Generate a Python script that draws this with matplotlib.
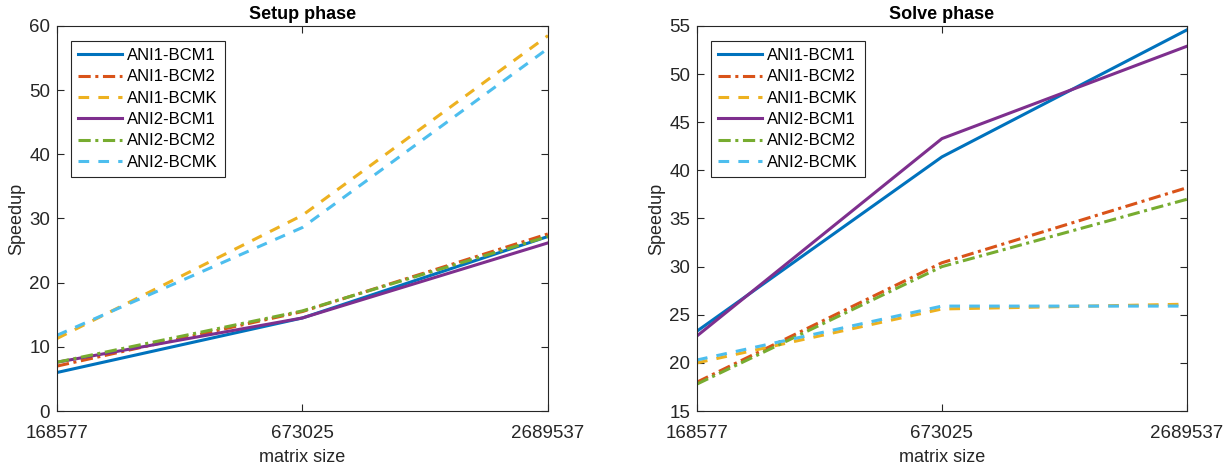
import numpy as np
import matplotlib.pyplot as plt

plt.rcParams['font.family'] = ['Liberation Sans', 'DejaVu Sans']

sizes = [168577, 673025, 2689537]
labels = ['ANI1-BCM1', 'ANI1-BCM2', 'ANI1-BCMK', 'ANI2-BCM1', 'ANI2-BCM2', 'ANI2-BCMK']

setup_ani1_bcm1 = [6.0, 14.5, 27.2]
setup_ani1_bcm2 = [7.0, 15.5, 27.6]
setup_ani1_bcmk = [11.3, 30.5, 58.5]
setup_ani2_bcm1 = [7.6, 14.5, 26.2]
setup_ani2_bcm2 = [7.6, 15.6, 27.2]
setup_ani2_bcmk = [11.8, 28.6, 56.5]

solve_ani1_bcm1 = [23.3, 41.4, 54.6]
solve_ani1_bcm2 = [18.0, 30.4, 38.2]
solve_ani1_bcmk = [20.0, 25.6, 26.1]
solve_ani2_bcm1 = [22.8, 43.3, 52.9]
solve_ani2_bcm2 = [17.8, 30.0, 37.0]
solve_ani2_bcmk = [20.3, 25.9, 25.9]

colors = ['#0072BD', '#D95319', '#EDB120', '#7E2F8E', '#77AC30', '#4DBEEE']
styles = ['-', (0, (4, 1.5, 1, 1.5)), (0, (3.5, 3)), '-', (0, (4, 1.5, 1, 1.5)), (0, (3.5, 3))]

setup = [setup_ani1_bcm1, setup_ani1_bcm2, setup_ani1_bcmk,
         setup_ani2_bcm1, setup_ani2_bcm2, setup_ani2_bcmk]
solve = [solve_ani1_bcm1, solve_ani1_bcm2, solve_ani1_bcmk,
         solve_ani2_bcm1, solve_ani2_bcm2, solve_ani2_bcmk]

W, H = 1231, 469
fig = plt.figure(figsize=(W / 100, H / 100), dpi=100)
ax1 = fig.add_axes([57 / W, 1 - 411 / H, 491 / W, 385 / H])
ax2 = fig.add_axes([697 / W, 1 - 411 / H, 490 / W, 385 / H])


def draw(ax, data, title, ylim, yticks):
    for y, c, s, l in zip(data, colors, styles, labels):
        ax.plot(sizes, y, color=c, linestyle=s, linewidth=2.2, label=l)
    ax.set_xscale('log')
    ax.set_xlim(sizes[0], sizes[-1])
    ax.set_xticks(sizes)
    ax.set_xticklabels([str(s) for s in sizes])
    ax.minorticks_off()
    ax.set_ylim(*ylim)
    ax.set_yticks(yticks)
    ax.tick_params(labelsize=13.5, direction='in', length=5, color='#262626',
                   top=True, right=True, labelcolor='#262626')
    ax.tick_params(axis='x', pad=10)
    ax.tick_params(axis='y', pad=5)
    for sp in ax.spines.values():
        sp.set_color('#262626')
        sp.set_linewidth(0.8)
    ax.set_title(title, fontsize=13, fontweight='bold', pad=5)
    ax.set_xlabel('matrix size', fontsize=13, color='#262626', labelpad=5)
    ax.set_ylabel('Speedup', fontsize=13, color='#262626', labelpad=3)
    leg = ax.legend(loc='upper left', fontsize=12, handlelength=2.65,
                    handletextpad=0.25, labelspacing=0.38, borderpad=0.45,
                    borderaxespad=0, fancybox=False, framealpha=1,
                    edgecolor='#262626', bbox_to_anchor=(0.028, 0.962))
    leg.get_frame().set_linewidth(0.8)


draw(ax1, setup, 'Setup phase', (0, 60), np.arange(0, 61, 10))
draw(ax2, solve, 'Solve phase', (15, 55), np.arange(15, 56, 5))

fig.savefig('out.png', dpi=100)
